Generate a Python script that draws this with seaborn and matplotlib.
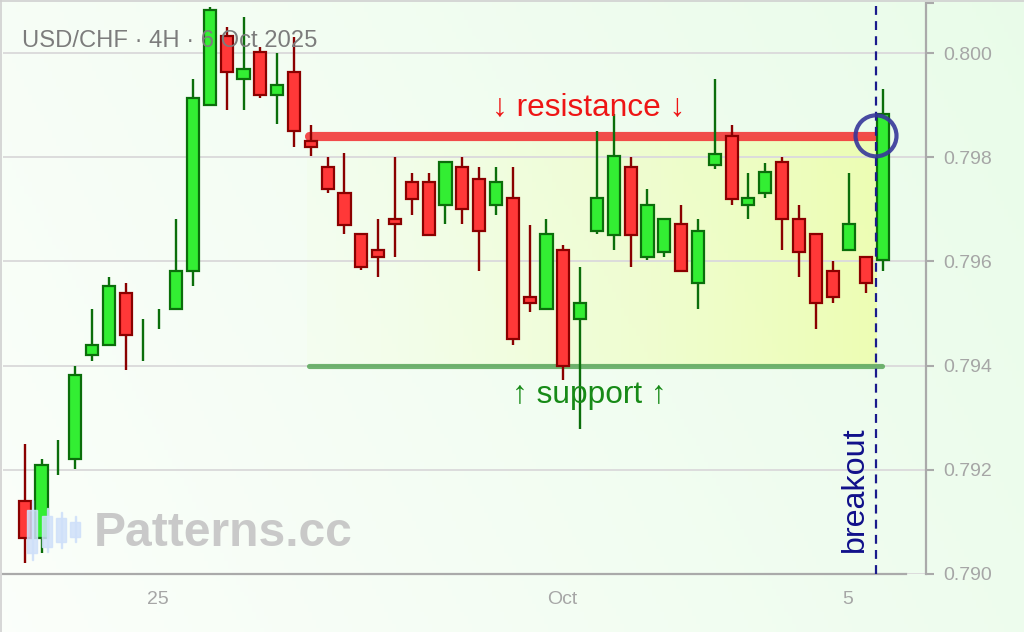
import numpy as np
import pandas as pd
import matplotlib
matplotlib.use("Agg")
import matplotlib.pyplot as plt
import seaborn as sns
from matplotlib.patches import Rectangle

# ---------------- data ----------------
opens = [0.79140, 0.79070, 0.79225, 0.79220, 0.79420, 0.79439, 0.79540, 0.79450, 0.79490, 0.79509,
         0.79582, 0.79900, 0.80032, 0.79950, 0.80001, 0.79919, 0.79964, 0.79832, 0.79782, 0.79732,
         0.79652, 0.79621, 0.79682, 0.79752, 0.79752, 0.79708, 0.79782, 0.79759, 0.79708, 0.79721,
         0.79532, 0.79508, 0.79621, 0.79489, 0.79658, 0.79650, 0.79782, 0.79609, 0.79619, 0.79671,
         0.79559, 0.79785, 0.79840, 0.79708, 0.79731, 0.79790, 0.79682, 0.79652, 0.79582, 0.79621,
         0.79609, 0.79602]
highs = [0.79250, 0.79220, 0.79258, 0.79400, 0.79508, 0.79570, 0.79558, 0.79489, 0.79508, 0.79681,
         0.79950, 0.80089, 0.80050, 0.80070, 0.80012, 0.80000, 0.80030, 0.79862, 0.79800, 0.79808,
         0.79652, 0.79681, 0.79800, 0.79770, 0.79770, 0.79790, 0.79800, 0.79781, 0.79781, 0.79781,
         0.79670, 0.79681, 0.79631, 0.79589, 0.79850, 0.79882, 0.79800, 0.79739, 0.79682, 0.79708,
         0.79681, 0.79950, 0.79862, 0.79770, 0.79789, 0.79800, 0.79708, 0.79652, 0.79600, 0.79770,
         0.79609, 0.79930]
lows = [0.79021, 0.79040, 0.79190, 0.79202, 0.79409, 0.79439, 0.79391, 0.79409, 0.79471, 0.79509,
        0.79552, 0.79900, 0.79890, 0.79890, 0.79913, 0.79863, 0.79820, 0.79802, 0.79732, 0.79652,
        0.79584, 0.79571, 0.79609, 0.79690, 0.79650, 0.79671, 0.79671, 0.79582, 0.79690, 0.79440,
        0.79502, 0.79508, 0.79372, 0.79278, 0.79652, 0.79621, 0.79590, 0.79603, 0.79609, 0.79581,
        0.79509, 0.79778, 0.79709, 0.79682, 0.79721, 0.79621, 0.79571, 0.79471, 0.79521, 0.79621,
        0.79540, 0.79582]
closes = [0.79070, 0.79209, 0.79225, 0.79382, 0.79440, 0.79552, 0.79458, 0.79450, 0.79490, 0.79582,
          0.79913, 0.80082, 0.79964, 0.79970, 0.79919, 0.79939, 0.79850, 0.79820, 0.79739, 0.79670,
          0.79590, 0.79609, 0.79671, 0.79720, 0.79650, 0.79790, 0.79700, 0.79658, 0.79752, 0.79452,
          0.79521, 0.79652, 0.79400, 0.79521, 0.79721, 0.79802, 0.79650, 0.79709, 0.79682, 0.79581,
          0.79659, 0.79806, 0.79720, 0.79721, 0.79771, 0.79681, 0.79619, 0.79520, 0.79531, 0.79671,
          0.79559, 0.79882]

x_tick_pos = [8, 32, 49]
x_tick_labels = ["25", "Oct", "5"]
y_ticks = [0.790, 0.792, 0.794, 0.796, 0.798, 0.800]
y_tick_labels = ["0.790", "0.792", "0.794", "0.796", "0.798", "0.800"]

resistance = 0.79841
support = 0.79400
zone_start = 16.85
breakout_x = 50.66

title_text = "USD/CHF · 4H · 6 Oct 2025"
res_label = "↓ resistance ↓"
sup_label = "↑ support ↑"
brk_label = "breakout"
watermark = "Patterns.cc"

# ---------------- style ----------------
sns.set_theme(style="white")
plt.rcParams["font.family"] = ["Liberation Sans", "DejaVu Sans"]

W, H = 1024, 632
fig = plt.figure(figsize=(W / 100, H / 100), dpi=100)

# background gradient
bg = fig.add_axes([0, 0, 1, 1], zorder=-10)
gx = np.linspace(0, 1, 256)[None, :]
gy = np.linspace(0, 1, 160)[:, None]
t = np.clip(0.75 * gx + 0.25 * (1 - gy), 0, 1)
c0 = np.array([0.985, 0.998, 0.982])
c1 = np.array([0.915, 0.988, 0.915])
img = c0[None, None, :] * (1 - t[..., None]) + c1[None, None, :] * t[..., None]
bg.imshow(img, aspect="auto", extent=[0, 1, 0, 1], origin="upper")
bg.axis("off")

ax = fig.add_axes([3 / W, 58 / H, 923 / W, 571 / H])
ax.set_facecolor("none")

df = pd.DataFrame({"open": opens, "high": highs, "low": lows, "close": closes})
df["x"] = np.arange(len(df)) + 0.08
up = df["close"] >= df["open"]
fill = np.where(up, "#33ee33", "#ff3838")
edge = np.where(up, "#0b6e0b", "#8a0000")
doji = (df["close"] - df["open"]).abs() < 1e-7
lws = np.where(doji, 0.0, 1.6)

# yellow zone gradient
zx = np.linspace(0, 1, 200)
zone = np.zeros((2, 200, 4))
zone[..., 0] = 0.93
zone[..., 1] = 1.0
zone[..., 2] = 0.55
zone[..., 3] = (0.04 + 0.55 * zx ** 1.3)[None, :]
ax.imshow(zone, extent=[zone_start, breakout_x, support, resistance],
          aspect="auto", zorder=0.5, origin="lower")

ax.grid(axis="y", color="#dcdcdc", lw=1.4, zorder=0.6)
ax.grid(axis="x", visible=False)

# support / resistance lines
ax.plot([zone_start + 0.15, breakout_x - 0.1], [resistance, resistance], color="#f23c3c",
        lw=6.6, alpha=0.92, solid_capstyle="round", zorder=1)
ax.plot([zone_start + 0.15, breakout_x + 0.35], [support, support], color="#5aa85a",
        lw=3.7, alpha=0.85, solid_capstyle="round", zorder=1)

# candles
ax.vlines(df["x"], df["low"], df["high"], colors=edge, lw=1.7, zorder=2)
ax.bar(df["x"], (df["close"] - df["open"]).abs(), bottom=df[["open", "close"]].min(axis=1),
       width=0.72, color=fill, edgecolor=edge, linewidth=lws, zorder=3)

# breakout marker
ax.axvline(breakout_x, color="#1a1a8c", lw=1.6, dashes=(4.0, 2.8), zorder=5)
sns.scatterplot(x=[breakout_x], y=[resistance], ax=ax, s=29.5 ** 2, marker="o",
                facecolors="none", edgecolors="#36369a", linewidths=3.0, alpha=0.9,
                zorder=6, legend=False)

# annotation texts
ax.text(33.6, 0.79897, res_label, color="#ee1515", fontsize=22.8, ha="center",
        va="center", zorder=7)
ax.text(33.6, 0.79343, sup_label, color="#178a17", fontsize=22.8, ha="center",
        va="center", zorder=7)
ax.text(49.4, 0.79163, brk_label, color="#10108a", fontsize=23.2, ha="center",
        va="center", rotation=90, zorder=7)

# axes styling
ax.set_xlim(-1.21, 53.63)
ax.set_ylim(0.790, 0.790 + 571 / 52100)
for s in ["left", "top"]:
    ax.spines[s].set_visible(False)
for s in ["right", "bottom"]:
    ax.spines[s].set_visible(True)
    ax.spines[s].set_color("#aaaaaa")
    ax.spines[s].set_linewidth(1.6)
ax.spines["bottom"].set_bounds(-1.21, 52.44)
ax.spines["right"].set_bounds(0.790, 0.790 + 571 / 52100)

ax.yaxis.tick_right()
ax.set_yticks(y_ticks)
ax.set_yticklabels(y_tick_labels)
ax.set_yticks([0.790 + 571 / 52100], minor=True)
ax.set_xticks(x_tick_pos)
ax.set_xticklabels(x_tick_labels)
ax.set_xticks([-1.21, 52.44], minor=True)
ax.tick_params(axis="both", which="both", length=6, width=1.5, color="#aaaaaa",
               labelcolor="#a6a6a6", labelsize=14, direction="out")
ax.tick_params(axis="y", pad=6.5)
ax.tick_params(axis="x", pad=6)
ax.set_xlabel("")
ax.set_ylabel("")

# title and watermark
fig.text(22 / W, 1 - 41 / H, title_text, color="#7c7c7c", fontsize=17.1,
         ha="left", va="center", zorder=8)
fig.text(94 / W, 1 - 533 / H, watermark, color="#c4c4c4", fontsize=34.6, fontweight="bold",
         ha="left", va="center", alpha=0.9, zorder=8)
icon = [(27, 500, 560, 510, 553), (42, 508, 552, 516, 547), (56, 512, 548, 518, 542),
        (70, 516, 542, 522, 537)]
for xx, wt, wb, bt, bb in icon:
    fig.add_artist(Rectangle(((xx + 4.5) / W, 1 - wb / H), 1.5 / W, (wb - wt) / H,
                             transform=fig.transFigure, color="#cfe0fa", alpha=0.85, zorder=8))
    fig.add_artist(Rectangle((xx / W, 1 - bb / H), 10 / W, (bb - bt) / H,
                             transform=fig.transFigure, color="#cfe0fa", alpha=0.85, zorder=8))

# thin frame on top / left edge
fig.add_artist(plt.Line2D([0, 1], [1 - 0.5 / H, 1 - 0.5 / H], transform=fig.transFigure,
                          color="#d0d0d0", lw=1.2))
fig.add_artist(plt.Line2D([0.5 / W, 0.5 / W], [0, 1], transform=fig.transFigure,
                          color="#d0d0d0", lw=1.2))

fig.savefig("out.png", dpi=100)
